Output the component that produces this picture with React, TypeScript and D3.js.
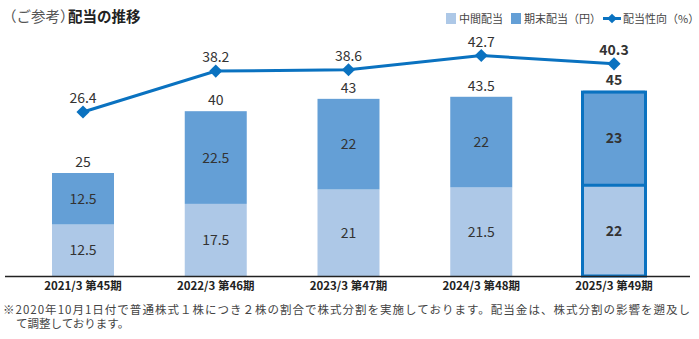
import React from "react";
import * as d3 from "d3";

const categories = ["2021/3 第45期", "2022/3 第46期", "2023/3 第47期", "2024/3 第48期", "2025/3 第49期"];
const interim = [12.5, 17.5, 21, 21.5, 22];
const yearEnd = [12.5, 22.5, 22, 22, 23];
const totals = [25, 40, 43, 43.5, 45];
const payout = [26.4, 38.2, 38.6, 42.7, 40.3];

const W = 699, H = 339;
const LIGHT = "#adc8e7";
const DARK = "#649fd6";
const LINE = "#0a72c0";
const FONT = "'Noto Sans CJK JP', 'Noto Sans', sans-serif";

export default function App() {
  const x = d3.scalePoint<string>().domain(categories).range([83, 614]);
  const bw = 62;
  const yBar = d3.scaleLinear().domain([0, 45]).range([276, 90.6]);
  const yLine = d3.scaleLinear().domain([26.4, 42.7]).range([112, 55.5]);
  const line = d3.line<number>().x((_, i) => x(categories[i])!).y((d) => yLine(d));
  const stack = d3.stack<number>().keys(["a", "b"]).value((i, k) => (k === "a" ? interim[i] : yearEnd[i]));
  const series = stack(categories.map((_, i) => i) as any);
  const colors = [LIGHT, DARK];
  const segVals = [interim, yearEnd];
  const last = categories.length - 1;

  return (
    <svg width={W} height={H} style={{ position: "absolute", left: 0, top: 0, fontFamily: FONT }}>
      <rect width={W} height={H} fill="#fff" />
      <text x={2} y={22} fontSize={14.5} fill="#555">（ご参考）</text>
      <text x={68} y={22} fontSize={14.5} fontWeight="bold" fill="#222">配当の推移</text>

      {/* legend */}
      <rect x={446} y={13} width={10} height={11} fill={LIGHT} />
      <text x={459} y={23} fontSize={11} fill="#444">中間配当</text>
      <rect x={511} y={13} width={10} height={11} fill={DARK} />
      <text x={524} y={23} fontSize={11} fill="#444">期末配当（円）</text>
      <line x1={603} x2={621} y1={18.5} y2={18.5} stroke={LINE} strokeWidth={3} />
      <path d={d3.symbol(d3.symbolDiamond2, 60)()!} transform="translate(612,18.5)" fill={LINE} />
      <text x={623} y={23} fontSize={11} fill="#444">配当性向（%）</text>

      {/* bars */}
      {series.map((s, si) =>
        s.map((d, i) => (
          <g key={`${si}-${i}`}>
            <rect
              x={x(categories[i])! - bw / 2}
              y={yBar(d[1])}
              width={bw}
              height={yBar(d[0]) - yBar(d[1])}
              fill={colors[si]}
            />
            <text
              x={x(categories[i])!}
              y={(yBar(d[0]) + yBar(d[1])) / 2 + 5}
              textAnchor="middle"
              fontSize={14}
              fontWeight={i === last ? "bold" : "normal"}
              fill="#333"
            >
              {segVals[si][i]}
            </text>
          </g>
        ))
      )}
      {/* highlight border on last bar */}
      <rect
        x={x(categories[last])! - bw / 2 - 0.5}
        y={yBar(totals[last]) + 1.5}
        width={bw + 1}
        height={yBar(0) - yBar(totals[last]) - 1.5}
        fill="none"
        stroke={LINE}
        strokeWidth={3}
      />
      <line
        x1={x(categories[last])! - bw / 2}
        x2={x(categories[last])! + bw / 2}
        y1={yBar(interim[last])}
        y2={yBar(interim[last])}
        stroke={LINE}
        strokeWidth={3}
      />
      {totals.map((t, i) => (
        <text
          key={`t${i}`}
          x={x(categories[i])!}
          y={yBar(t) - 6}
          textAnchor="middle"
          fontSize={14}
          fontWeight={i === last ? "bold" : "normal"}
          fill="#333"
        >
          {t}
        </text>
      ))}

      {/* axis */}
      <line x1={5} x2={690} y1={276.5} y2={276.5} stroke="#222" strokeWidth={1.5} />
      {categories.map((c, i) => (
        <text key={c} x={x(c)!} y={290} textAnchor="middle" fontSize={11.5} fontWeight="bold" fill="#222">
          {c}
        </text>
      ))}

      {/* payout line */}
      <path d={line(payout)!} fill="none" stroke={LINE} strokeWidth={3} />
      {payout.map((p, i) => (
        <g key={`p${i}`}>
          <path d={d3.symbol(d3.symbolDiamond2, 110)()!} transform={`translate(${x(categories[i])},${yLine(p)})`} fill={LINE} />
          <text
            x={x(categories[i])!}
            y={yLine(p) - 9}
            textAnchor="middle"
            fontSize={14}
            fontWeight={i === last ? "bold" : "normal"}
            fill="#333"
          >
            {p.toFixed(1)}
          </text>
        </g>
      ))}

      {/* footnote */}
      <text fontSize={11.5} fill="#444">
        <tspan x={3} y={314} textLength={687} lengthAdjust="spacing">
          ※2020年10月1日付で普通株式１株につき２株の割合で株式分割を実施しております。配当金は、株式分割の影響を遡及し
        </tspan>
        <tspan x={16} y={328}>て調整しております。</tspan>
      </text>
    </svg>
  );
}
